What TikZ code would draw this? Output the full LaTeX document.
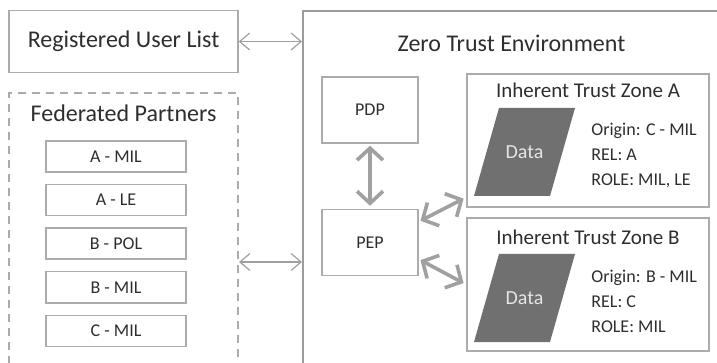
\documentclass[tikz,border=0pt]{standalone}
\usepackage{fontspec}
\setmainfont{Carlito}
\usetikzlibrary{positioning, arrows.meta}
\definecolor{linegray}{HTML}{ABABAB}
\definecolor{framegray}{HTML}{9C9C9C}
\definecolor{arrowgray}{HTML}{A0A0A0}
\definecolor{datagray}{HTML}{707070}
\definecolor{inkgray}{HTML}{2E2E2E}
\tikzset{
    node distance=5.6pt, % gap between the partner boxes
    every node/.style={text=inkgray, inner sep=0pt},
    box/.style={draw=linegray, line width=0.75pt, font=\fontsize{12}{14}\selectfont},
    frame/.style={draw=framegray, line width=1pt}, % the big environment border
    dashframe/.style={draw=linegray, line width=0.75pt, dash pattern=on 4pt off 3pt},
    partner/.style={draw=linegray, line width=0.7pt, minimum width=70pt, minimum height=15.5pt, font=\fontsize{9}{11}\selectfont},
    unit/.style={draw=linegray, line width=0.7pt, minimum width=48pt, minimum height=33pt, font=\fontsize{9}{11}\selectfont},
    zone/.style={draw=linegray, line width=0.75pt, minimum width=121pt, minimum height=66.5pt},
    title/.style={font=\fontsize{12}{14}\selectfont},
    zonetitle/.style={font=\fontsize{10.5}{12}\selectfont},
    datatext/.style={text=white!90!black, font=\fontsize{10}{12}\selectfont},
    attr/.style={anchor=west, align=left, font=\fontsize{9}{12.5}\selectfont},
    link/.style={{Straight Barb[length=5pt, width=8.5pt]}-{Straight Barb[length=5pt, width=8.5pt]}, draw=arrowgray, line width=0.6pt},
    biglink/.style={{Straight Barb[length=6pt, width=13pt]}-{Straight Barb[length=6pt, width=13pt]}, draw=arrowgray, line width=1.8pt,
        shorten <=1pt, shorten >=1.5pt},
}
% slanted data block around a named centre
\newcommand{\datablock}[1]{%
    \fill[datagray] ([shift={(-12.75pt,22pt)}]#1) -- ([shift={(25.25pt,22pt)}]#1)
        -- ([shift={(12.75pt,-22pt)}]#1) -- ([shift={(-25.25pt,-22pt)}]#1) -- cycle;
}

\begin{document}
\begin{tikzpicture}[x=0.5pt, y=-0.5pt] % one unit per pixel, y going down
    \useasboundingbox (0,0) rectangle (717,363);
    \clip (0,0) rectangle (717,363);

    % left column
    \node[box, minimum width=114.5pt, minimum height=31pt] (users) at (123.5,41.5) {Registered User List};
    \node[dashframe, minimum width=114.5pt, minimum height=143.5pt] (fed) at (123.5,236.5) {};
    \node[title] (fedtitle) at (123.5,113) {Federated Partners};

    \node[partner] (amil) at (116,156.5) {A - MIL};
    \node[partner, below=of amil] (ale) {A - LE};
    \node[partner, below=of ale] (bpol) {B - POL};
    \node[partner, below=of bpol] (bmil) {B - MIL};
    \node[partner, below=of bmil] (cmil) {C - MIL};

    % zero trust side
    \node[frame, minimum width=213.5pt, minimum height=184.5pt] (zte) at (516.5,195.5) {};
    \node[title] (ztetitle) at (511.5,43) {Zero Trust Environment};

    \node[unit] (pdp) at (370,110) {PDP};
    \node[unit, below=32.5pt of pdp] (pep) {PEP};

    \node[zone] (zoneA) at (588,140.5) {};
    \node[zonetitle] (zoneAtitle) at (588,90) {Inherent Trust Zone A};
    \coordinate (dataA) at (524.5,152);
    \datablock{dataA}
    \node[datatext] (dataAlabel) at (dataA) {Data};
    \node[attr] (attrA) at (591,155) {Origin: C - MIL\\REL: A\\ROLE: MIL, LE};

    \node[zone] (zoneB) at (588,284.5) {};
    \node[zonetitle] (zoneBtitle) at (588,237) {Inherent Trust Zone B};
    \coordinate (dataB) at (524.5,298);
    \datablock{dataB}
    \node[datatext] (dataBlabel) at (dataB) {Data};
    \node[attr] (attrB) at (591,301) {Origin: B - MIL\\REL: C\\ROLE: MIL};

    % connections
    \coordinate (fedport) at (239,262);
    \draw[link] (users.east) -- (users -| zte.west);
    \draw[link] (fedport) -- (fedport -| zte.west);

    \draw[biglink] (pdp) -- (pep);
    \draw[biglink] (pep.23) -- (zoneA.205);
    \draw[biglink] (pep.341) -- (zoneB.180);
\end{tikzpicture}
\end{document}
